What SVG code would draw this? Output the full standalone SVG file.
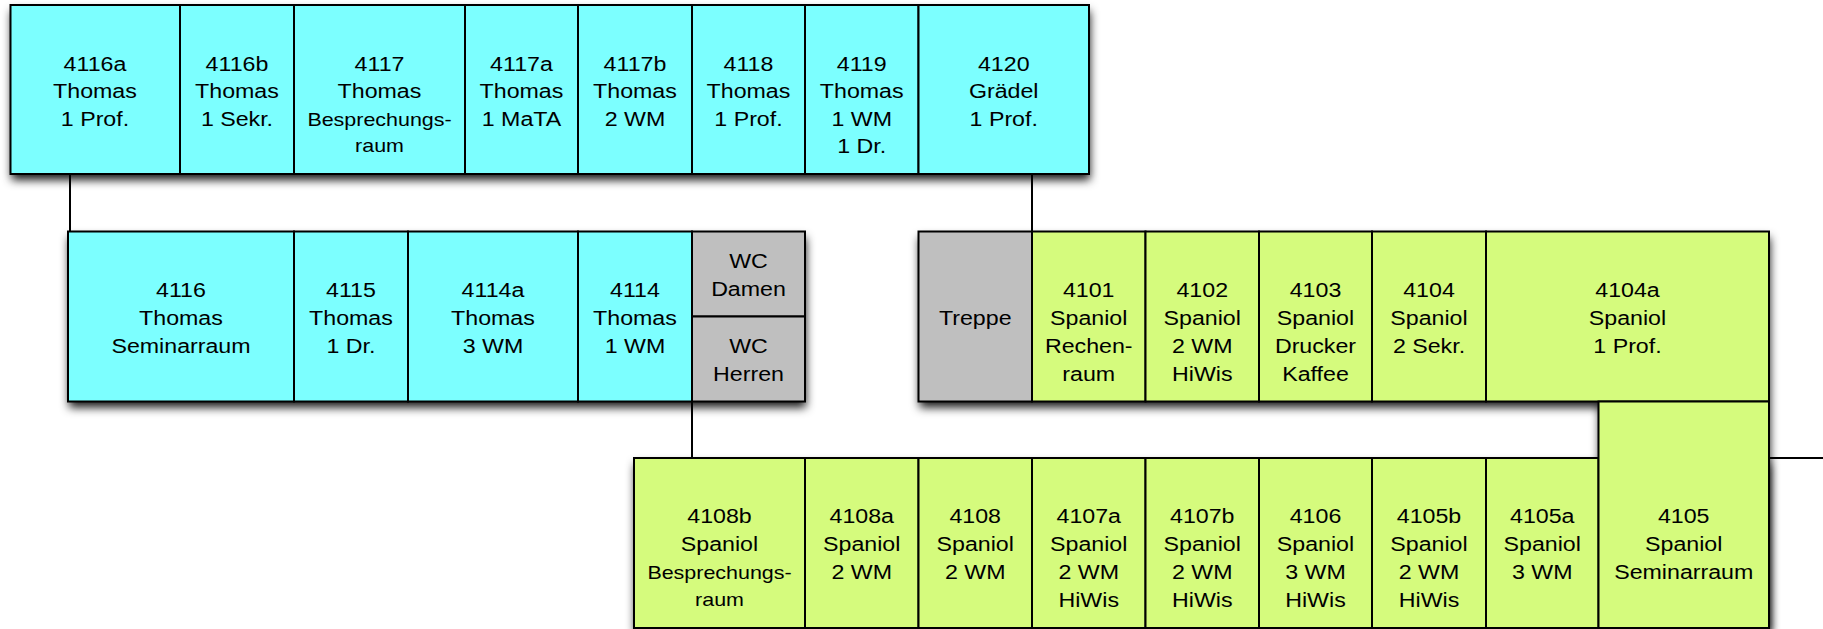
<svg xmlns="http://www.w3.org/2000/svg" width="1823" height="629" viewBox="0 0 1823 629">
<defs>
<filter id="sh" x="-10%" y="-25%" width="120%" height="160%">
<feDropShadow dx="1" dy="6" stdDeviation="5" flood-color="#000" flood-opacity="0.9"/>
</filter>
</defs>
<style>
.c{fill:#7CFFFF;stroke:#000;stroke-width:2}
.g{fill:#D5FB7D;stroke:#000;stroke-width:2}
.n{fill:#BFBFBF;stroke:#000;stroke-width:2}
.blk{fill:#000;filter:url(#sh)}
.t{font-family:"Liberation Sans",Arial,Helvetica,sans-serif;font-size:20px;fill:#000;text-anchor:middle;transform-box:fill-box;transform-origin:center;transform:scaleX(1.16)}
.s{font-size:18.5px}
.ln{stroke:#000;stroke-width:2;fill:none}
</style>
<rect width="1823" height="629" fill="#fff"/>
<g id="shadows">
<rect class="blk" x="10.5" y="5" width="1078.5" height="169"/>
<rect class="blk" x="68" y="231.5" width="737" height="170"/>
<polygon class="blk" points="918.5,231.5 1769,231.5 1769,628 1598.5,628 1598.5,401.5 918.5,401.5"/>
<rect class="blk" x="634" y="458" width="1135" height="170"/>
</g>
<g id="connectors">
<line class="ln" x1="70" y1="174" x2="70" y2="231.5"/>
<line class="ln" x1="1032" y1="174" x2="1032" y2="231.5"/>
<line class="ln" x1="692" y1="401.5" x2="692" y2="458"/>
<line class="ln" x1="1769" y1="458" x2="1823" y2="458"/>
</g>
<g id="r4116a"><rect class="c" x="10.5" y="5" width="169.5" height="169"/><text class="t"><tspan x="95" y="71">4116a</tspan><tspan x="95" y="98.5">Thomas</tspan><tspan x="95" y="126">1 Prof.</tspan></text></g>
<g id="r4116b"><rect class="c" x="180" y="5" width="114" height="169"/><text class="t"><tspan x="237" y="71">4116b</tspan><tspan x="237" y="98.5">Thomas</tspan><tspan x="237" y="126">1 Sekr.</tspan></text></g>
<g id="r4117"><rect class="c" x="294" y="5" width="171" height="169"/><text class="t"><tspan x="379.5" y="71">4117</tspan><tspan x="379.5" y="98.5">Thomas</tspan><tspan class="s" x="379.5" y="126">Besprechungs-</tspan><tspan class="s" x="379.5" y="152.5">raum</tspan></text></g>
<g id="r4117a"><rect class="c" x="465" y="5" width="113" height="169"/><text class="t"><tspan x="521.5" y="71">4117a</tspan><tspan x="521.5" y="98.5">Thomas</tspan><tspan x="521.5" y="126">1 MaTA</tspan></text></g>
<g id="r4117b"><rect class="c" x="578" y="5" width="114" height="169"/><text class="t"><tspan x="635" y="71">4117b</tspan><tspan x="635" y="98.5">Thomas</tspan><tspan x="635" y="126">2 WM</tspan></text></g>
<g id="r4118"><rect class="c" x="692" y="5" width="113" height="169"/><text class="t"><tspan x="748.5" y="71">4118</tspan><tspan x="748.5" y="98.5">Thomas</tspan><tspan x="748.5" y="126">1 Prof.</tspan></text></g>
<g id="r4119"><rect class="c" x="805" y="5" width="113.5" height="169"/><text class="t"><tspan x="861.75" y="71">4119</tspan><tspan x="861.75" y="98.5">Thomas</tspan><tspan x="861.75" y="126">1 WM</tspan><tspan x="861.75" y="153.5">1 Dr.</tspan></text></g>
<g id="r4120"><rect class="c" x="918.5" y="5" width="170.5" height="169"/><text class="t"><tspan x="1003.75" y="71">4120</tspan><tspan x="1003.75" y="98.5">Grädel</tspan><tspan x="1003.75" y="126">1 Prof.</tspan></text></g>
<g id="r4116"><rect class="c" x="68" y="231.5" width="226" height="170"/><text class="t"><tspan x="181" y="297">4116</tspan><tspan x="181" y="325">Thomas</tspan><tspan x="181" y="353">Seminarraum</tspan></text></g>
<g id="r4115"><rect class="c" x="294" y="231.5" width="114" height="170"/><text class="t"><tspan x="351" y="297">4115</tspan><tspan x="351" y="325">Thomas</tspan><tspan x="351" y="353">1 Dr.</tspan></text></g>
<g id="r4114a"><rect class="c" x="408" y="231.5" width="170" height="170"/><text class="t"><tspan x="493" y="297">4114a</tspan><tspan x="493" y="325">Thomas</tspan><tspan x="493" y="353">3 WM</tspan></text></g>
<g id="r4114"><rect class="c" x="578" y="231.5" width="114" height="170"/><text class="t"><tspan x="635" y="297">4114</tspan><tspan x="635" y="325">Thomas</tspan><tspan x="635" y="353">1 WM</tspan></text></g>
<g id="wcDamen"><rect class="n" x="692" y="231.5" width="113" height="85"/><text class="t"><tspan x="748.5" y="268.5">WC</tspan><tspan x="748.5" y="296.5">Damen</tspan></text></g>
<g id="wcHerren"><rect class="n" x="692" y="316.5" width="113" height="85"/><text class="t"><tspan x="748.5" y="353">WC</tspan><tspan x="748.5" y="381">Herren</tspan></text></g>
<g id="treppe"><rect class="n" x="918.5" y="231.5" width="113.5" height="170"/><text class="t"><tspan x="975.25" y="325">Treppe</tspan></text></g>
<g id="r4101"><rect class="g" x="1032" y="231.5" width="113.5" height="170"/><text class="t"><tspan x="1088.75" y="297">4101</tspan><tspan x="1088.75" y="325">Spaniol</tspan><tspan x="1088.75" y="353">Rechen-</tspan><tspan x="1088.75" y="381">raum</tspan></text></g>
<g id="r4102"><rect class="g" x="1145.5" y="231.5" width="113.5" height="170"/><text class="t"><tspan x="1202.25" y="297">4102</tspan><tspan x="1202.25" y="325">Spaniol</tspan><tspan x="1202.25" y="353">2 WM</tspan><tspan x="1202.25" y="381">HiWis</tspan></text></g>
<g id="r4103"><rect class="g" x="1259" y="231.5" width="113" height="170"/><text class="t"><tspan x="1315.5" y="297">4103</tspan><tspan x="1315.5" y="325">Spaniol</tspan><tspan x="1315.5" y="353">Drucker</tspan><tspan x="1315.5" y="381">Kaffee</tspan></text></g>
<g id="r4104"><rect class="g" x="1372" y="231.5" width="114" height="170"/><text class="t"><tspan x="1429" y="297">4104</tspan><tspan x="1429" y="325">Spaniol</tspan><tspan x="1429" y="353">2 Sekr.</tspan></text></g>
<g id="r4104a"><rect class="g" x="1486" y="231.5" width="283" height="170"/><text class="t"><tspan x="1627.5" y="297">4104a</tspan><tspan x="1627.5" y="325">Spaniol</tspan><tspan x="1627.5" y="353">1 Prof.</tspan></text></g>
<g id="r4108b"><rect class="g" x="634" y="458" width="171" height="170"/><text class="t"><tspan x="719.5" y="523">4108b</tspan><tspan x="719.5" y="551">Spaniol</tspan><tspan class="s" x="719.5" y="579">Besprechungs-</tspan><tspan class="s" x="719.5" y="606">raum</tspan></text></g>
<g id="r4108a"><rect class="g" x="805" y="458" width="113.5" height="170"/><text class="t"><tspan x="861.75" y="523">4108a</tspan><tspan x="861.75" y="551">Spaniol</tspan><tspan x="861.75" y="579">2 WM</tspan></text></g>
<g id="r4108"><rect class="g" x="918.5" y="458" width="113.5" height="170"/><text class="t"><tspan x="975.25" y="523">4108</tspan><tspan x="975.25" y="551">Spaniol</tspan><tspan x="975.25" y="579">2 WM</tspan></text></g>
<g id="r4107a"><rect class="g" x="1032" y="458" width="113.5" height="170"/><text class="t"><tspan x="1088.75" y="523">4107a</tspan><tspan x="1088.75" y="551">Spaniol</tspan><tspan x="1088.75" y="579">2 WM</tspan><tspan x="1088.75" y="607">HiWis</tspan></text></g>
<g id="r4107b"><rect class="g" x="1145.5" y="458" width="113.5" height="170"/><text class="t"><tspan x="1202.25" y="523">4107b</tspan><tspan x="1202.25" y="551">Spaniol</tspan><tspan x="1202.25" y="579">2 WM</tspan><tspan x="1202.25" y="607">HiWis</tspan></text></g>
<g id="r4106"><rect class="g" x="1259" y="458" width="113" height="170"/><text class="t"><tspan x="1315.5" y="523">4106</tspan><tspan x="1315.5" y="551">Spaniol</tspan><tspan x="1315.5" y="579">3 WM</tspan><tspan x="1315.5" y="607">HiWis</tspan></text></g>
<g id="r4105b"><rect class="g" x="1372" y="458" width="114" height="170"/><text class="t"><tspan x="1429" y="523">4105b</tspan><tspan x="1429" y="551">Spaniol</tspan><tspan x="1429" y="579">2 WM</tspan><tspan x="1429" y="607">HiWis</tspan></text></g>
<g id="r4105a"><rect class="g" x="1486" y="458" width="112.5" height="170"/><text class="t"><tspan x="1542.25" y="523">4105a</tspan><tspan x="1542.25" y="551">Spaniol</tspan><tspan x="1542.25" y="579">3 WM</tspan></text></g>
<g id="r4105"><rect class="g" x="1598.5" y="401.5" width="170.5" height="226.5"/><text class="t"><tspan x="1683.75" y="523">4105</tspan><tspan x="1683.75" y="551">Spaniol</tspan><tspan x="1683.75" y="579">Seminarraum</tspan></text></g>
</svg>
